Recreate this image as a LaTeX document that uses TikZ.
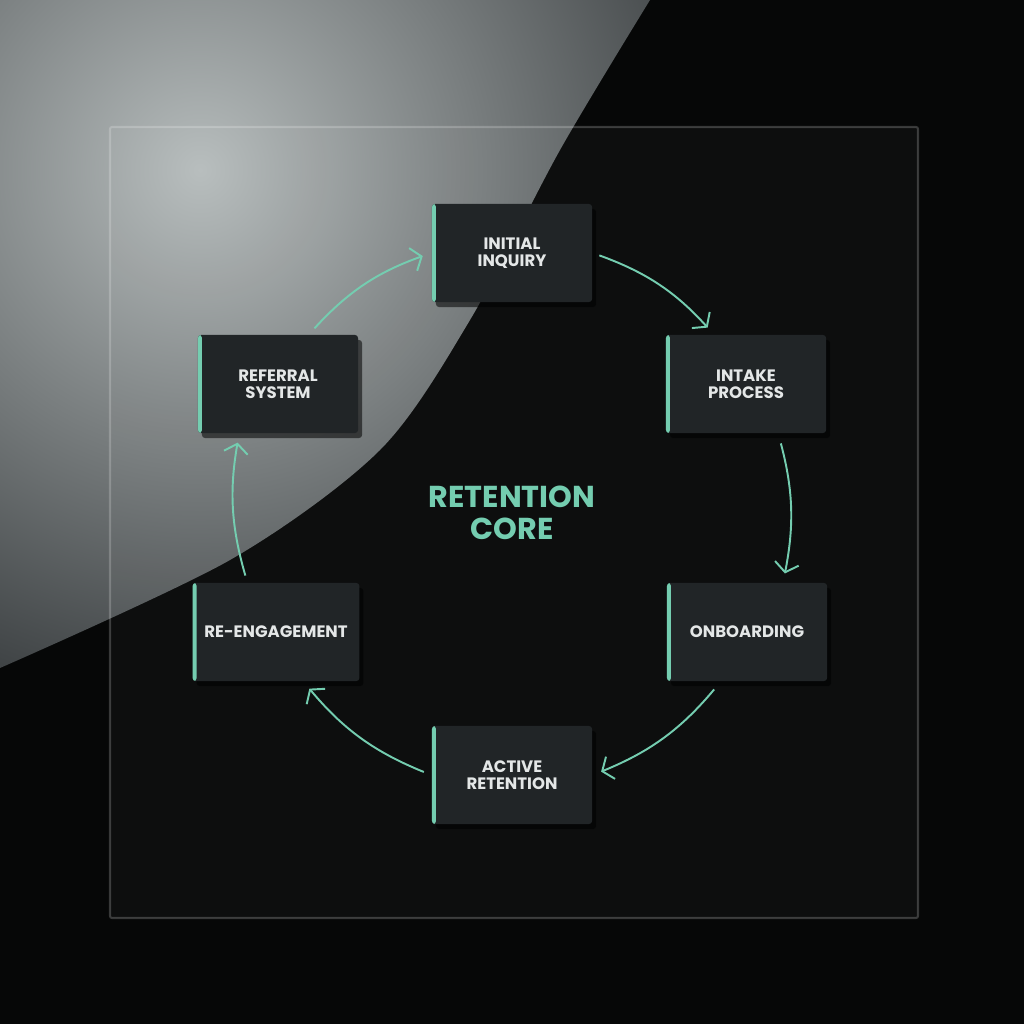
\documentclass[tikz,border=0pt]{standalone}
\usepackage{fontspec}
\setmainfont{Poppins}
\usetikzlibrary{arrows.meta,positioning,shadows,calc}

\definecolor{mint}{HTML}{74CDB0}
\definecolor{cardbg}{HTML}{212527}
\definecolor{cardtxt}{HTML}{E4E7E7}
\definecolor{glossA}{HTML}{B6BCBC}
\definecolor{glossB}{HTML}{3A3E40}
\definecolor{darkbg}{HTML}{060707}

\tikzset{
    card/.style={rectangle, rounded corners=0.03cm, fill=cardbg, text=cardtxt,
        minimum width=1.6cm, minimum height=0.98cm, align=center,
        font=\bfseries\fontsize{4.7}{4.9}\selectfont,
        drop shadow={shadow xshift=0.04cm, shadow yshift=-0.05cm, opacity=0.55, fill=black},
        path picture={\fill[mint] (path picture bounding box.south west) rectangle ([xshift=0.04cm]path picture bounding box.north west);}},
    flow/.style={draw=mint, line width=0.55pt, -{Straight Barb[length=0.09cm, width=0.24cm]}}
}

\begin{document}
\begin{tikzpicture}[x=0.01cm, y=-0.01cm]
    \useasboundingbox (0,0) rectangle (1024,1024);
    \fill[darkbg] (0,0) rectangle (1024,1024);

    % light reflection in the top left
    \begin{scope}
        \clip (0,0) -- plot[smooth] coordinates {(650,0) (560,150) (470,320) (380,450) (230,560) (0,668)} -- cycle;
        \shade[inner color=glossA, outer color=glossB] (200,170) circle (560);
    \end{scope}

    % glass panel
    \draw[draw=white, draw opacity=0.2, line width=0.6pt, fill=white, fill opacity=0.03, rounded corners=0.02cm] (110,127) rectangle (918,918);

    % steps
    \node (inquiry) [card] at (512,253) {INITIAL\\INQUIRY};
    \node (intake) [card] at (746,384) {INTAKE\\PROCESS};
    \node (onboard) [card] at (747,632) {ONBOARDING};
    \node (active) [card] at (512,775) {ACTIVE\\RETENTION};
    \node (reengage) [card] at (276,632) {RE-ENGAGEMENT};
    \node (referral) [card] at (278,384) {REFERRAL\\SYSTEM};

    \node (core) [text=mint, align=center, font=\bfseries\fontsize{8.6}{9.2}\selectfont] at (512,513) {RETENTION\\CORE};

    \draw [flow, shorten <=0.07cm, shorten >=0.09cm] (inquiry.east) to[bend left=14] (intake.123);
    \draw [flow, shorten <=0.1cm, shorten >=0.09cm] (intake.303) to[bend left=13] (onboard.54);
    \draw [flow, shorten <=0.1cm, shorten >=0.09cm] (onboard.242) to[bend left=14] (active.east);
    \draw [flow, shorten <=0.08cm, shorten >=0.09cm] (active.west) to[bend left=14] (reengage.299);
    \draw [flow, shorten <=0.07cm, shorten >=0.09cm] (reengage.120) to[bend left=13] (referral.232);
    \draw [flow, shorten <=0.08cm, shorten >=0.09cm] (referral.58) to[bend left=14] (inquiry.west);
\end{tikzpicture}
\end{document}
